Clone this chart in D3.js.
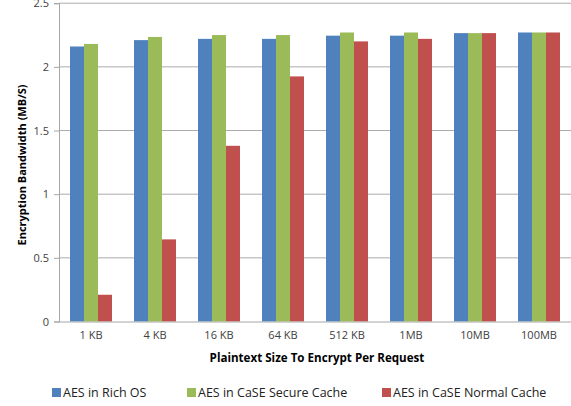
<!DOCTYPE html>
<html><head><meta charset="utf-8">
<script src="https://cdn.jsdelivr.net/npm/d3@7"></script>
<style>body{margin:0;background:#fff}svg{display:block}</style>
</head><body>
<svg id="c" width="571" height="406"></svg>
<script>
const categories = ["1 KB","4 KB","16 KB","64 KB","512 KB","1MB","10MB","100MB"];
const seriesNames = ["AES in Rich OS","AES in CaSE Secure Cache","AES in CaSE Normal Cache"];
const richOS =      [2.16, 2.21, 2.22, 2.22, 2.245, 2.245, 2.265, 2.27];
const secureCache = [2.18, 2.235, 2.25, 2.25, 2.27, 2.27, 2.265, 2.27];
const normalCache = [0.21, 0.645, 1.38, 1.925, 2.20, 2.22, 2.265, 2.27];
const yTicks = [0, 0.5, 1, 1.5, 2, 2.5];
const colors = ["#4F81BD","#9BBB59","#C0504D"];

(function(){
const series = [richOS, secureCache, normalCache];
const svg = d3.select("#c");
const font = "'Open Sans', 'Noto Sans', sans-serif";
const pLeft = 59, pRight = 571, pTop = 3.2, pBottom = 321.5;

const x = d3.scaleBand().domain(categories).range([pLeft, pRight]).paddingInner(0.34375).paddingOuter(0.171875);
const xs = d3.scaleBand().domain(d3.range(3)).range([0, x.bandwidth()]);
const y = d3.scaleLinear().domain([0, 2.5]).range([pBottom, pTop]);

// gridlines
svg.append("g").selectAll("line").data(yTicks.filter(d => d > 0)).join("line")
  .attr("x1", pLeft).attr("x2", pRight).attr("y1", d => y(d)).attr("y2", d => y(d))
  .attr("stroke", "#ABABAB").attr("stroke-width", 1);

// bars
const g = svg.append("g");
series.forEach((vals, si) => {
  g.append("g").selectAll("rect").data(vals).join("rect")
    .attr("x", (d, i) => x(categories[i]) + xs(si))
    .attr("width", xs.bandwidth())
    .attr("y", d => y(d))
    .attr("height", d => y(0) - y(d))
    .attr("fill", colors[si]);
});

// y axis
const ya = svg.append("g").attr("transform", `translate(${pLeft},0)`)
  .call(d3.axisLeft(y).tickValues(yTicks).tickSize(5).tickPadding(5).tickFormat(d3.format("")));
ya.select(".domain").attr("stroke", "#A6A6A6");
ya.selectAll(".tick line").attr("stroke", "#A6A6A6");
ya.selectAll("text").attr("font-family", font).attr("font-size", 11).attr("fill", "#404040");

// x axis
const xa = svg.append("g").attr("transform", `translate(0,${pBottom})`)
  .call(d3.axisBottom(x).tickSize(0).tickPadding(10));
xa.select(".domain").attr("stroke", "#A6A6A6").attr("d", `M${pLeft},0.5H${pRight}`);
xa.selectAll("text").attr("font-family", font).attr("font-size", 11).attr("fill", "#404040");

// axis titles
svg.append("text").attr("x", 317).attr("y", 362).attr("text-anchor", "middle")
  .attr("font-family", font).attr("font-size", 11.6).attr("font-weight", "bold").attr("fill", "#000")
  .text("Plaintext Size To Encrypt Per Request");
svg.append("text").attr("transform", "translate(26,165) rotate(-90)").attr("text-anchor", "middle")
  .attr("font-family", font).attr("font-size", 11).attr("font-weight", "bold").attr("fill", "#000")
  .text("Encryption Bandwidth (MB/S)");

// legend
const legX = [52, 187, 382];
const leg = svg.append("g").selectAll("g").data(seriesNames).join("g")
  .attr("transform", (d, i) => `translate(${legX[i]},388)`);
leg.append("rect").attr("width", 9).attr("height", 9).attr("fill", (d, i) => colors[i]);
leg.append("text").attr("x", 11).attr("y", 9).attr("font-family", font).attr("font-size", 12.5)
  .attr("fill", "#222").text(d => d);
})();
</script>
</body></html>
